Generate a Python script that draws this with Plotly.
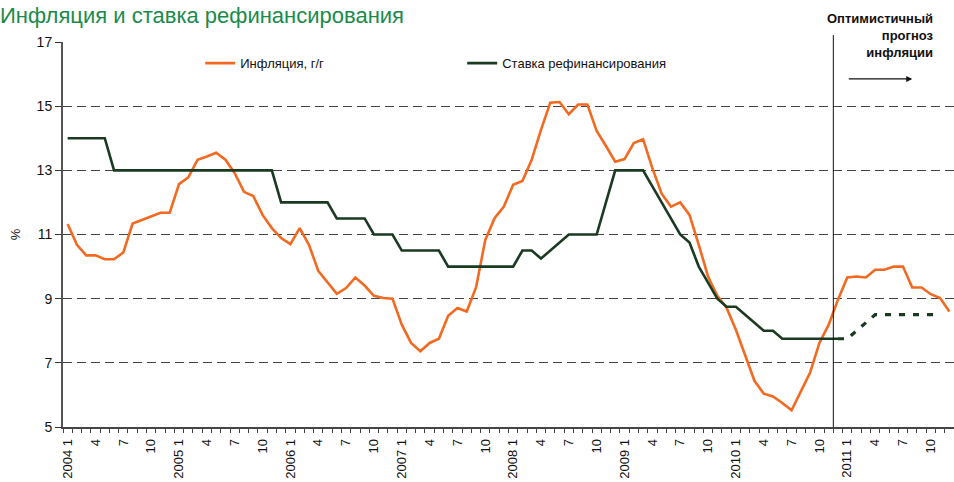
import plotly.graph_objects as go

years = list(range(2004, 2012))
months = list(range(1, 13))

inflation = [
    11.33, 10.68, 10.35, 10.35, 10.23, 10.23, 10.44, 11.34, 11.45, 11.56, 11.68, 11.68,
    12.57, 12.78, 13.33, 13.43, 13.55, 13.33, 12.91, 12.33, 12.20, 11.61, 11.20, 10.89,
    10.70, 11.20, 10.68, 9.87, 9.52, 9.15, 9.33, 9.66, 9.41, 9.09, 9.02, 9.00,
    8.19, 7.62, 7.36, 7.62, 7.75, 8.47, 8.71, 8.60, 9.35, 10.83, 11.51, 11.87,
    12.55, 12.67, 13.33, 14.26, 15.11, 15.13, 14.75, 15.05, 15.05, 14.23, 13.76, 13.27,
    13.35, 13.85, 13.97, 13.07, 12.27, 11.87, 12.00, 11.61, 10.68, 9.69, 9.09, 8.71,
    8.03, 7.20, 6.44, 6.04, 5.95, 5.75, 5.52, 6.11, 6.70, 7.62, 8.19, 8.97,
    9.66, 9.69, 9.66, 9.90, 9.90, 10.00, 10.00, 9.35, 9.35, 9.14, 9.02, 8.60,
]

refi_rate = (
    [14.0] * 5 + [13.0] * 18 + [12.0] * 6 + [11.5] * 4 + [11.0] * 3 + [10.5] * 5
    + [10.0] * 8 + [10.5, 10.5, 10.25, 10.5, 10.75] + [11.0] * 4 + [12.0] + [13.0] * 4
    + [12.5, 12.0, 11.5, 11.0, 10.75, 10.0, 9.5, 9.0, 8.75, 8.75, 8.5, 8.25, 8.0, 8.0]
    + [7.75] * 7
)

refi_forecast = [7.75, 7.75, 8.0, 8.25, 8.5, 8.5, 8.5, 8.5, 8.5, 8.5, 8.5, 8.5]
forecast_start = len(refi_rate) - 1

n = len(inflation)
idx = list(range(n))

tick_idx = []
tick_text = []
for yi, yr in enumerate(years):
    for m in (1, 4, 7, 10):
        tick_idx.append(yi * 12 + m - 1)
        tick_text.append(f"{yr} {m}" if m == 1 else str(m))

ORANGE = "#F26A21"
GREEN = "#1B3A22"
FONT = "Arial, Liberation Sans, sans-serif"

fig = go.Figure()
fig.add_trace(go.Scatter(
    x=idx, y=inflation, mode="lines", name="Инфляция, г/г",
    line=dict(color=ORANGE, width=2.6),
))
fig.add_trace(go.Scatter(
    x=idx[:len(refi_rate)], y=refi_rate, mode="lines", name="Ставка рефинансирования",
    line=dict(color=GREEN, width=2.6),
))
fig.add_trace(go.Scatter(
    x=idx[forecast_start:forecast_start + len(refi_forecast)], y=refi_forecast,
    mode="lines", showlegend=False,
    line=dict(color=GREEN, width=3.2, dash="6px,8px"),
))

fig.add_shape(type="line", xref="x", yref="paper", x0=82.5, x1=82.5, y0=0, y1=1.018,
              line=dict(color="#111111", width=1))

fig.add_annotation(
    xref="x", yref="y", x=91, y=15.85, ax=84, ay=15.85, axref="x", ayref="y",
    showarrow=True, arrowhead=2, arrowsize=1, arrowwidth=1.2, arrowcolor="#111111", text="",
)
fig.add_annotation(
    xref="x", yref="paper", x=93.6, y=1.085, xanchor="right", yanchor="top",
    text="<b>Оптимистичный<br>прогноз<br>инфляции</b>", showarrow=False, align="right",
    font=dict(family=FONT, size=13, color="#111111"),
)
fig.add_annotation(
    xref="paper", yref="paper", x=-0.073, y=1.106, xanchor="left", yanchor="top",
    text="Инфляция и ставка рефинансирования", showarrow=False,
    font=dict(family=FONT, size=22, color="#1A8A4C"),
)
fig.add_annotation(
    xref="paper", yref="paper", x=-0.053, y=0.5, xanchor="center", yanchor="middle",
    text="%", showarrow=False, textangle=-90,
    font=dict(family=FONT, size=13, color="#111111"),
)

fig.update_layout(
    width=954, height=482,
    margin=dict(l=63, r=0, t=42, b=55, autoexpand=False),
    paper_bgcolor="white", plot_bgcolor="white",
    font=dict(family=FONT, size=13, color="#111111"),
    showlegend=True,
    legend=dict(
        orientation="h", x=0.154, y=0.945, xanchor="left", yanchor="middle",
        bgcolor="rgba(0,0,0,0)", font=dict(family=FONT, size=13, color="#111111"),
        entrywidth=217, entrywidthmode="pixels", itemwidth=30,
    ),
)
fig.update_xaxes(
    range=[-0.5, n - 0.5], tickmode="array", tickvals=tick_idx, ticktext=tick_text,
    tickangle=-90, ticks="", showgrid=False, zeroline=False, automargin=False,
    showline=True, linecolor="#444444", linewidth=1.5,
    tickfont=dict(family=FONT, size=13, color="#111111"),
    ticklabelstandoff=5,
    minor=dict(tickmode="linear", tick0=-0.5, dtick=1, ticks="outside", ticklen=4,
               tickcolor="#444444", tickwidth=1, showgrid=False),
)
fig.update_yaxes(
    range=[5, 17], tickmode="linear", tick0=5, dtick=2, automargin=False,
    ticks="outside", ticklen=6, tickcolor="#333333",
    showgrid=True, gridcolor="#444444", gridwidth=1, griddash="9px,5px",
    zeroline=False, showline=True, linecolor="#555555", linewidth=2,
    tickfont=dict(family=FONT, size=14, color="#111111"),
)

fig.write_html("out.html", config={"displayModeBar": False},
               post_script="document.body.style.margin='0';")
